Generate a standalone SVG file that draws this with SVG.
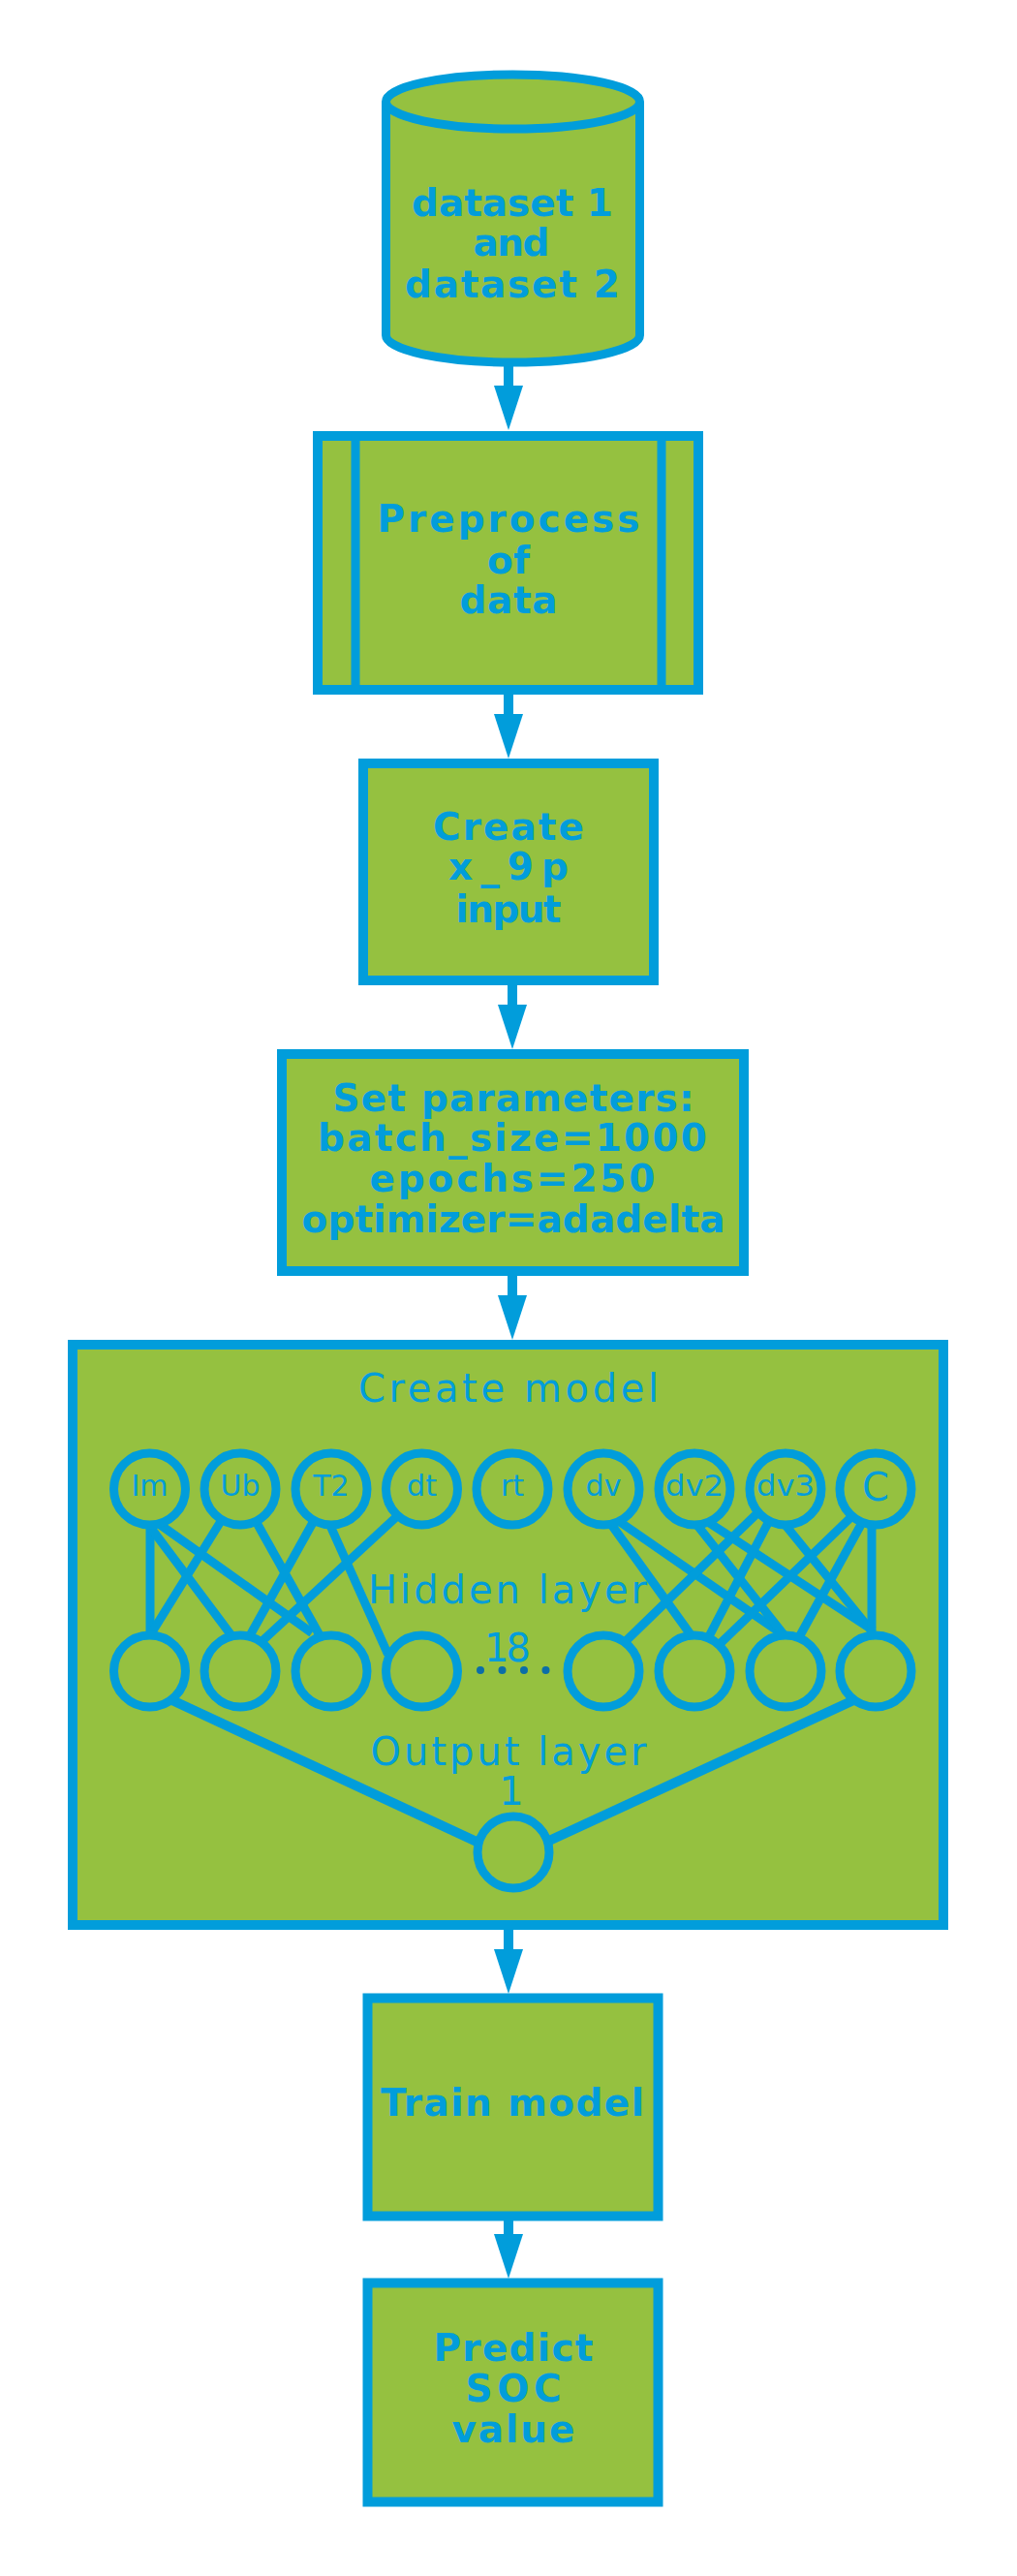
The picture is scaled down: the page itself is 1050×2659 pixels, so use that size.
<svg xmlns="http://www.w3.org/2000/svg" width="1050" height="2659" viewBox="0 0 1050 2659">
<style>
.box{fill:#95C140;stroke:#019DDB;stroke-width:10}
.cyl{fill:#95C140;stroke:#019DDB;stroke-width:9}
.t{font-family:'DejaVu Sans','Liberation Sans',sans-serif;font-size:39px;font-weight:bold;fill:#019DDB;text-anchor:middle}
.tn{font-family:'DejaVu Sans','Liberation Sans',sans-serif;font-size:40px;fill:#019DDB;text-anchor:middle}
.lbl{font-family:'DejaVu Sans','Liberation Sans',sans-serif;font-size:30px;fill:#019DDB;text-anchor:middle}
.nn{fill:#95C140;stroke:#019DDB;stroke-width:9}
.ln{stroke:#019DDB;stroke-width:9;fill:none}
.ln2{stroke:#019DDB;stroke-width:10;fill:none}
.arr{stroke:#019DDB;stroke-width:10;fill:none;marker-end:url(#ah)}
.dot{fill:#0B6EA8}
</style>
<defs>
<marker id="ah" markerUnits="userSpaceOnUse" markerWidth="46" markerHeight="30" viewBox="0 0 46 30" refX="0" refY="15" orient="auto">
<path d="M0,0 L46,15 L0,30 Z" fill="#019DDB"/>
</marker>
</defs>
<rect width="1050" height="2659" fill="#ffffff"/>

<g id="connectors">
<line class="arr" x1="525" y1="378" x2="525" y2="398"/>
<line class="arr" x1="525" y1="717" x2="525" y2="737"/>
<line class="arr" x1="529" y1="1017" x2="529" y2="1037"/>
<line class="arr" x1="529" y1="1317" x2="529" y2="1337"/>
<line class="arr" x1="525" y1="1992" x2="525" y2="2012"/>
<line class="arr" x1="525" y1="2292" x2="525" y2="2306"/>
</g>

<g id="node-dataset">
<path class="cyl" d="M398.5,105 L398.5,346 A131,28 0 0 0 660.5,346 L660.5,105"/>
<ellipse class="cyl" cx="529.5" cy="105" rx="131" ry="28"/>
<text class="t" x="529" y="223" textLength="208" lengthAdjust="spacing">dataset 1</text>
<text class="t" x="528" y="264" textLength="79" lengthAdjust="spacing">and</text>
<text class="t" x="529" y="307" textLength="222" lengthAdjust="spacing">dataset 2</text>
</g>

<g id="node-preprocess">
<rect class="box" x="328" y="450" width="393" height="262"/>
<line class="ln" x1="367" y1="450" x2="367" y2="712"/>
<line class="ln" x1="683" y1="450" x2="683" y2="712"/>
<text class="t" x="525" y="549" textLength="271" lengthAdjust="spacing">Preprocess</text>
<text class="t" x="525" y="592" textLength="44" lengthAdjust="spacing">of</text>
<text class="t" x="525" y="633" textLength="101" lengthAdjust="spacing">data</text>
</g>

<g id="node-create-input">
<rect class="box" x="375" y="788" width="300" height="224"/>
<text class="t" x="525" y="867" textLength="156" lengthAdjust="spacing">Create</text>
<text class="t" x="525" y="908" textLength="124" lengthAdjust="spacing">x_9p</text>
<text class="t" x="525" y="952" textLength="109" lengthAdjust="spacing">input</text>
</g>

<g id="node-parameters">
<rect class="box" x="291" y="1088" width="477" height="224"/>
<text class="t" x="530" y="1147" textLength="373" lengthAdjust="spacing">Set parameters:</text>
<text class="t" x="529" y="1188" textLength="402" lengthAdjust="spacing">batch_size=1000</text>
<text class="t" x="529" y="1230" textLength="295" lengthAdjust="spacing">epochs=250</text>
<text class="t" x="530" y="1272" textLength="437" lengthAdjust="spacing">optimizer=adadelta</text>
</g>

<g id="node-create-model">
<rect class="box" x="75" y="1388" width="899" height="599"/>
<text class="tn" x="525" y="1447" textLength="310" lengthAdjust="spacing">Create model</text>
<g id="nn-links">
<line class="ln" x1="155" y1="1572" x2="155" y2="1688"/>
<line class="ln" x1="154.4" y1="1575.2" x2="238.6" y2="1687.8"/>
<line class="ln" x1="162" y1="1571.5" x2="322" y2="1685.5"/>
<line class="ln" x1="230" y1="1567" x2="155" y2="1688"/>
<line class="ln" x1="264" y1="1570" x2="330" y2="1688"/>
<line class="ln" x1="325" y1="1568" x2="257" y2="1690"/>
<line class="ln" x1="339.5" y1="1571.5" x2="400.5" y2="1707.5"/>
<line class="ln" x1="414.4" y1="1561" x2="270.6" y2="1694"/>
<line class="ln" x1="628.5" y1="1570" x2="713.5" y2="1688"/>
<line class="ln" x1="638" y1="1569.6" x2="807" y2="1686.4"/>
<line class="ln" x1="718" y1="1572" x2="809" y2="1687"/>
<line class="ln" x1="732" y1="1571.7" x2="902" y2="1683.3"/>
<line class="ln" x1="786" y1="1558" x2="644" y2="1696"/>
<line class="ln" x1="795" y1="1568" x2="730" y2="1693"/>
<line class="ln" x1="809" y1="1572" x2="901" y2="1685"/>
<line class="ln" x1="887" y1="1558" x2="743" y2="1697"/>
<line class="ln" x1="891" y1="1570" x2="825" y2="1690"/>
<line class="ln" x1="900" y1="1572" x2="900" y2="1688"/>
<line class="ln2" x1="176.6" y1="1754.5" x2="497.4" y2="1903.5"/>
<line class="ln2" x1="882.4" y1="1754.5" x2="561.6" y2="1902.5"/>
</g>
<g id="nn-input">
<circle class="nn" cx="154.5" cy="1537" r="37"/>
<circle class="nn" cx="248" cy="1537" r="37"/>
<circle class="nn" cx="342" cy="1537" r="37"/>
<circle class="nn" cx="435.5" cy="1537" r="37"/>
<circle class="nn" cx="529" cy="1537" r="37"/>
<circle class="nn" cx="623" cy="1537" r="37"/>
<circle class="nn" cx="717" cy="1537" r="37"/>
<circle class="nn" cx="811" cy="1537" r="37"/>
<circle class="nn" cx="904" cy="1537" r="37"/>
<text class="lbl" x="154.5" y="1544">Im</text>
<text class="lbl" x="248" y="1544">Ub</text>
<text class="lbl" x="342" y="1544">T2</text>
<text class="lbl" x="435.5" y="1544">dt</text>
<text class="lbl" x="529" y="1544">rt</text>
<text class="lbl" x="623" y="1544">dv</text>
<text class="lbl" x="717" y="1544" textLength="60" lengthAdjust="spacingAndGlyphs">dv2</text>
<text class="lbl" x="811" y="1544" textLength="60" lengthAdjust="spacingAndGlyphs">dv3</text>
<text class="tn" x="904" y="1549">C</text>
</g>
<g id="nn-hidden">
<circle class="nn" cx="154.5" cy="1725" r="37"/>
<circle class="nn" cx="248" cy="1725" r="37"/>
<circle class="nn" cx="342" cy="1725" r="37"/>
<circle class="nn" cx="435.5" cy="1725" r="37"/>
<circle class="nn" cx="623" cy="1725" r="37"/>
<circle class="nn" cx="717" cy="1725" r="37"/>
<circle class="nn" cx="811" cy="1725" r="37"/>
<circle class="nn" cx="904" cy="1725" r="37"/>
<circle class="dot" cx="496" cy="1724" r="4"/>
<circle class="dot" cx="518.5" cy="1724" r="4"/>
<circle class="dot" cx="541" cy="1724" r="4"/>
<circle class="dot" cx="563.5" cy="1724" r="4"/>
<text class="tn" x="524" y="1715" textLength="48" lengthAdjust="spacing">18</text>
<text class="tn" x="524" y="1655" textLength="288" lengthAdjust="spacing">Hidden layer</text>
</g>
<g id="nn-output">
<circle class="nn" cx="530" cy="1912" r="37"/>
<text class="tn" x="525" y="1822" textLength="285" lengthAdjust="spacing">Output layer</text>
<text class="tn" x="528" y="1863">1</text>
</g>
</g>

<g id="node-train">
<rect class="box" x="379.5" y="2062.5" width="300" height="225"/>
<text class="t" x="529" y="2184" textLength="272" lengthAdjust="spacing">Train model</text>
</g>

<g id="node-predict">
<rect class="box" x="379.5" y="2356.5" width="300" height="226"/>
<text class="t" x="530" y="2437" textLength="165" lengthAdjust="spacing">Predict</text>
<text class="t" x="530" y="2479" textLength="99" lengthAdjust="spacing">SOC</text>
<text class="t" x="530" y="2521" textLength="127" lengthAdjust="spacing">value</text>
</g>
</svg>
